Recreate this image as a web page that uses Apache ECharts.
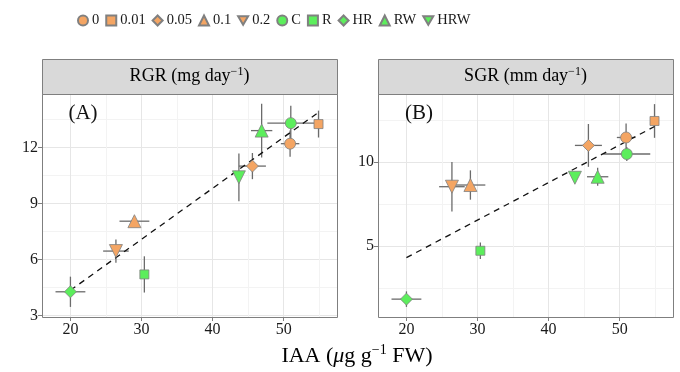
<!DOCTYPE html>
<html>
<head>
<meta charset="utf-8">
<script src="https://cdn.jsdelivr.net/npm/echarts@6/dist/echarts.min.js"></script>
<style>
  html, body { margin: 0; padding: 0; background: #fff; }
  #chart { width: 680px; height: 372px; }
</style>
</head>
<body>
<div id="chart"></div>
<script>
// treatment groups, in legend order
const groups = ['0', '0.01', '0.05', '0.1', '0.2', 'C', 'R', 'HR', 'RW', 'HRW'];
// IAA (x) with its error, shared by both panels
const iaa =    [50.9, 54.9, 45.6, 29.0, 26.4, 51.0, 30.4, 20.0, 46.9, 43.7];
const iaaErr = [1.3, 0.3, 1.9, 2.1, 1.8, 3.3, 0.3, 2.1, 1.5, 0.4];
// panel A: RGR
const rgr =    [12.2, 13.25, 11.0, 8.05, 6.45, 13.3, 5.2, 4.27, 12.9, 10.4];
const rgrErr = [0.7, 0.72, 0.7, 0.15, 0.62, 0.93, 0.97, 0.81, 1.44, 1.28];
// panel B: SGR
const sgr =    [11.45, 12.43, 10.98, 8.63, 8.53, 10.47, 4.73, 1.86, 9.12, 9.06];
const sgrErr = [0.83, 1.0, 1.27, 0.87, 1.47, 0.42, 0.49, 0.46, 0.54, 0.3];
// regression lines (endpoints)
const rgrFit = [[20, 4.35], [54.9, 13.88]];
const sgrFit = [[20, 4.32], [54.9, 12.1]];
// ticks
const xTicks = [20, 30, 40, 50];
const xMinor = [25, 35, 45, 55];
const rgrTicks = [3, 6, 9, 12];
const rgrMinor = [4.5, 7.5, 10.5, 13.5];
const sgrTicks = [5, 10];
const sgrMinor = [2.5, 7.5, 12.5];

const FONT = 'Liberation Serif';
const orange = '#f4a563';
const green = '#5cee5c';
const shapes = ['circle', 'rect', 'diamond', 'triangle', 'triangle'];
const sizes = [11, 9, 12, 13, 13];
const downTri = 'path://M0,0L10,0L5,8.66Z';
const panelLeft = [42, 378];
const panelTop = 94, panelW = 295, panelH = 223, stripH = 35;

const myChart = echarts.init(document.getElementById('chart'));

function mainX(grid) {
  return {
    type: 'value', gridIndex: grid, min: 16, max: 57.5, position: 'bottom',
    axisLine: { show: false },
    axisTick: { show: true, length: 4, customValues: xTicks, lineStyle: { color: '#7f7f7f' } },
    axisLabel: { customValues: xTicks, fontFamily: FONT, fontSize: 16, color: '#1a1a1a', margin: 5 },
    splitLine: { show: true, lineStyle: { color: '#e6e6e6', width: 1 } }
  };
}
function minorX(grid) {
  return {
    type: 'value', gridIndex: grid, min: 16, max: 57.5, position: 'bottom',
    axisLine: { show: false }, axisLabel: { show: false },
    axisTick: { show: false, customValues: xMinor },
    splitLine: { show: true, lineStyle: { color: '#f3f3f3', width: 1 } }
  };
}
function mainY(grid, min, max, ticks) {
  return {
    type: 'value', gridIndex: grid, min, max, position: 'left',
    axisLine: { show: false },
    axisTick: { show: true, length: 4, customValues: ticks, lineStyle: { color: '#7f7f7f' } },
    axisLabel: { customValues: ticks, fontFamily: FONT, fontSize: 16, color: '#1a1a1a', margin: 4 },
    splitLine: { show: true, lineStyle: { color: '#e6e6e6', width: 1 } }
  };
}
function minorY(grid, min, max, ticks) {
  return {
    type: 'value', gridIndex: grid, min, max, position: 'left',
    axisLine: { show: false }, axisLabel: { show: false },
    axisTick: { show: false, customValues: ticks },
    splitLine: { show: true, lineStyle: { color: '#f3f3f3', width: 1 } }
  };
}

function errorBars(axis, ys, yerrs) {
  return {
    type: 'custom', xAxisIndex: axis, yAxisIndex: axis, z: 2, silent: true,
    data: groups.map((g, i) => [iaa[i], ys[i], iaaErr[i], yerrs[i]]),
    renderItem(params, api) {
      const x = api.value(0), y = api.value(1), dx = api.value(2), dy = api.value(3);
      const l = api.coord([x - dx, y]), r = api.coord([x + dx, y]);
      const t = api.coord([x, y + dy]), b = api.coord([x, y - dy]);
      const style = { stroke: '#6b6b6b', lineWidth: 1.3 };
      return {
        type: 'group',
        children: [
          { type: 'line', shape: { x1: l[0], y1: l[1], x2: r[0], y2: r[1] }, style },
          { type: 'line', shape: { x1: t[0], y1: t[1], x2: b[0], y2: b[1] }, style }
        ]
      };
    }
  };
}

function fitLine(axis, pts) {
  return {
    type: 'line', xAxisIndex: axis, yAxisIndex: axis, z: 3, silent: true,
    data: pts, symbol: 'none',
    lineStyle: { color: '#111', width: 1.3, type: [6, 5] }
  };
}

const series = [
  errorBars(0, rgr, rgrErr),
  errorBars(2, sgr, sgrErr),
  fitLine(0, rgrFit),
  fitLine(2, sgrFit)
];
groups.forEach((g, i) => {
  [[0, rgr], [2, sgr]].forEach(([axis, ys]) => {
    series.push({
      type: 'scatter', name: g, xAxisIndex: axis, yAxisIndex: axis, z: 4,
      symbol: shapes[i % 5], symbolRotate: i % 5 === 4 ? 180 : 0, symbolSize: sizes[i % 5],
      itemStyle: { color: i < 5 ? orange : green, borderColor: '#808080', borderWidth: 0.8, opacity: 1 },
      data: [[iaa[i], ys[i]]]
    });
  });
});

const supRich = (size) => ({
  a: { fontFamily: FONT, fontSize: size, lineHeight: size + 4, color: '#1a1a1a' },
  i: { fontFamily: FONT, fontSize: size, lineHeight: size + 4, fontStyle: 'italic', color: '#1a1a1a' },
  s: { fontFamily: FONT, fontSize: Math.round(size * 0.65), lineHeight: 8, verticalAlign: 'top', color: '#1a1a1a' }
});

const graphic = [];
[['RGR (mg day', '(A)'], ['SGR (mm day', '(B)']].forEach(([title, tag], p) => {
  const left = panelLeft[p];
  graphic.push({
    type: 'rect', z: 10,
    shape: { x: left + 0.5, y: panelTop - stripH + 0.5, width: panelW, height: stripH },
    style: { fill: '#d9d9d9', stroke: '#7f7f7f', lineWidth: 1 }
  });
  graphic.push({
    type: 'rect', z: 10,
    shape: { x: left + 0.5, y: panelTop + 0.5, width: panelW, height: panelH },
    style: { fill: 'none', stroke: '#7f7f7f', lineWidth: 1 }
  });
  graphic.push({
    type: 'text', z: 11, x: left + panelW / 2, y: panelTop - stripH / 2,
    style: {
      text: '{a|' + title + '}{s|−1}{a|)}', rich: supRich(18),
      align: 'center', verticalAlign: 'middle'
    }
  });
  graphic.push({
    type: 'text', z: 11, x: left + 41, y: panelTop + 19,
    style: { text: tag, fontFamily: FONT, fontSize: 21, fill: '#111', align: 'center', verticalAlign: 'middle' }
  });
});
graphic.push({
  type: 'text', z: 11, x: 357, y: 356,
  style: {
    text: '{a|IAA (}{i|μ}{a|g g}{s|−1}{a| FW)}', rich: supRich(22),
    align: 'center', verticalAlign: 'middle'
  }
});

myChart.setOption({
  animation: false,
  backgroundColor: '#fff',
  legend: {
    data: groups.map((g, i) => (i % 5 === 4 ? { name: g, icon: downTri } : { name: g })),
    left: 72, top: 8, itemWidth: 10, itemHeight: 10, itemGap: 6,
    textStyle: { fontFamily: FONT, fontSize: 14.5, color: '#1a1a1a', padding: [0, 0, 0, -1] },
    selectedMode: false
  },
  grid: panelLeft.map(left => ({ left, top: panelTop, width: panelW, height: panelH, show: false })),
  xAxis: [mainX(0), minorX(0), mainX(1), minorX(1)],
  yAxis: [
    mainY(0, 2.92, 14.86, rgrTicks), minorY(0, 2.92, 14.86, rgrMinor),
    mainY(1, 0.8, 14.03, sgrTicks), minorY(1, 0.8, 14.03, sgrMinor)
  ],
  graphic,
  series
});
</script>
</body>
</html>
